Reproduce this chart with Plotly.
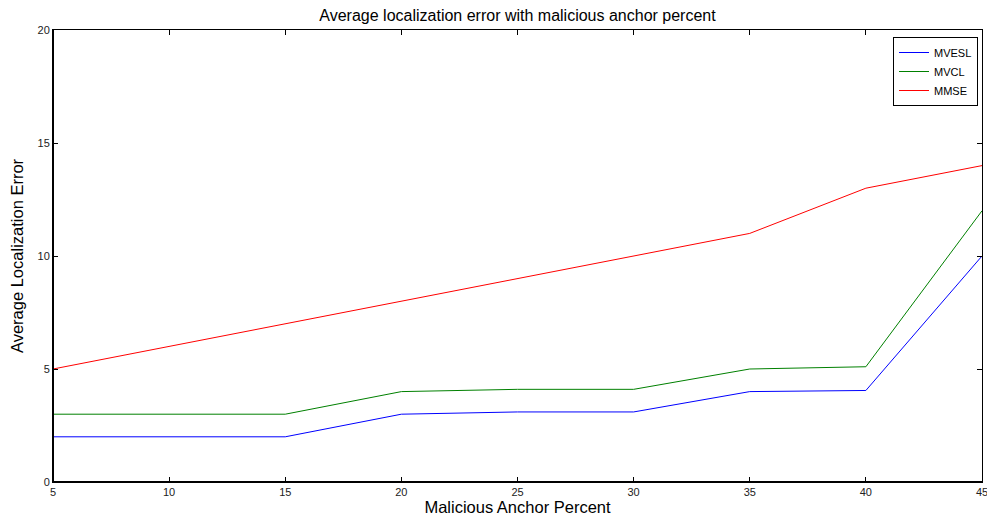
import plotly.graph_objects as go

x_vals = [5, 10, 15, 20, 25, 30, 35, 40, 45]
mvesl = [2, 2, 2, 3, 3.1, 3.1, 4, 4.05, 10]
mvcl = [3, 3, 3, 4, 4.1, 4.1, 5, 5.1, 12]
mmse = [5, 6, 7, 8, 9, 10, 11, 13, 14]
x_ticks = [5, 10, 15, 20, 25, 30, 35, 40, 45]
y_ticks = [0, 5, 10, 15, 20]

FONT = "Liberation Sans, Arial, sans-serif"

fig = go.Figure()
for name, vals, col in [("MVESL", mvesl, "#0000ff"), ("MVCL", mvcl, "#008000"), ("MMSE", mmse, "#ff0000")]:
    fig.add_trace(go.Scatter(x=x_vals, y=vals, mode="lines", name=name,
                             line=dict(color=col, width=1)))

axis_common = dict(showgrid=False, zeroline=False, showline=True, linecolor="black",
                   linewidth=1, mirror="allticks", ticks="inside", ticklen=5,
                   tickcolor="black", tickwidth=1, ticklabeloverflow="allow",
                   automargin=False,
                   tickfont=dict(family=FONT, size=11, color="#222"))

fig.update_layout(
    width=987, height=519,
    margin=dict(l=53, r=5, t=30, b=37),
    paper_bgcolor="white", plot_bgcolor="white",
    title=dict(text="Average localization error with malicious anchor percent",
               xref="paper", x=0.5, xanchor="center", y=1 - 15 / 519, yanchor="middle",
               font=dict(family=FONT, size=16, color="black")),
    xaxis=dict(range=[5, 45], tickvals=x_ticks, ticktext=[str(v) for v in x_ticks],
               title=dict(text="Malicious Anchor Percent", standoff=4,
                          font=dict(family=FONT, size=16.5, color="black")),
               **axis_common),
    yaxis=dict(range=[0, 20], tickvals=y_ticks, ticktext=[str(v) for v in y_ticks],
               title=dict(text="Average Localization Error", standoff=9,
                          font=dict(family=FONT, size=16.5, color="black")),
               **axis_common),
    legend=dict(x=0.9957, y=0.9845, xanchor="right", yanchor="top",
                bgcolor="white", bordercolor="black", borderwidth=1,
                font=dict(family=FONT, size=11, color="black"),
                itemwidth=30, tracegroupgap=0),
    showlegend=True,
)
# thicker left/bottom axis lines (MATLAB style)
fig.add_shape(type="line", xref="paper", yref="paper", x0=0, x1=0, y0=0, y1=1,
              line=dict(color="black", width=2))
fig.add_shape(type="line", xref="paper", yref="paper", x0=0, x1=1, y0=0, y1=0,
              line=dict(color="black", width=2))

fig.write_html("out.html")
